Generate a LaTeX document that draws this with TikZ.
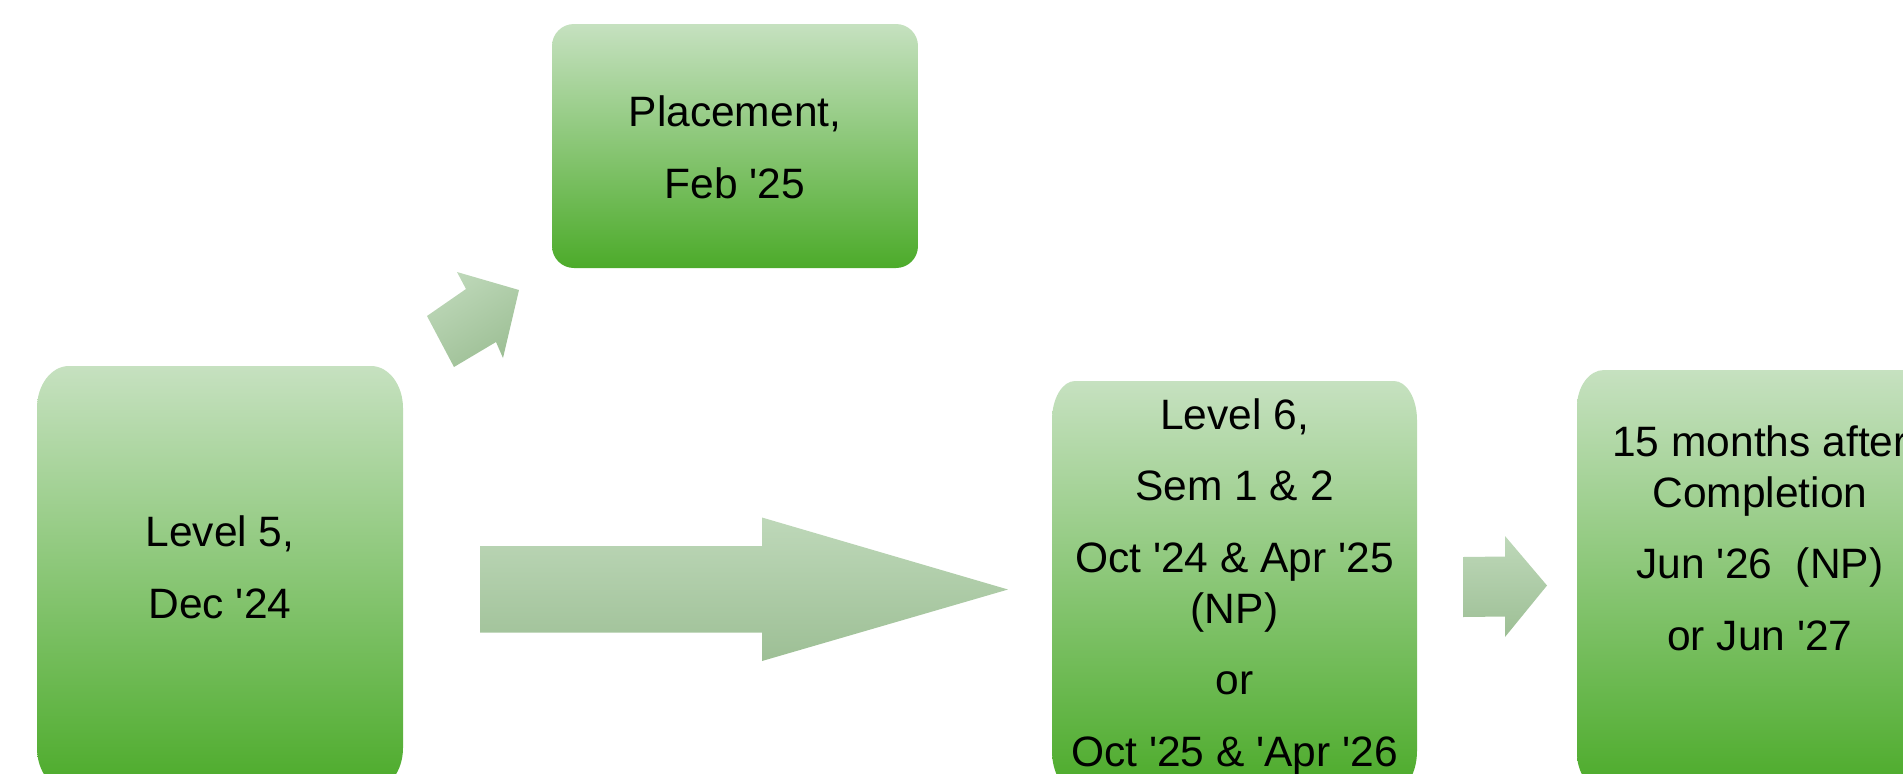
\documentclass[tikz,border=0pt]{standalone}
\usepackage{fontspec}
\setmainfont{Liberation Sans}
\definecolor{stagetop}{RGB}{198,225,192}
\definecolor{stagebot}{RGB}{76,171,42}
\definecolor{arrowtop}{RGB}{190,216,185}
\definecolor{arrowbot}{RGB}{157,191,149}
\tikzset{every picture/.style={line width=0.75pt}}
\tikzset{
  stage/.style={top color=stagetop, bottom color=stagebot, draw=none},
  blockarrow/.style={top color=arrowtop, bottom color=arrowbot, draw=none},
  lbl/.style={anchor=base, align=center, inner sep=0pt, font=\fontsize{21.25}{25.5}\selectfont}
}
\begin{document}
\begin{tikzpicture}[x=0.5pt,y=0.5pt,yscale=-1,xscale=1]
\useasboundingbox (0,0) rectangle (1903,773);
\clip (0,0) rectangle (1903,773);

%Shape: Rounded Rect [Level 5]
\shade [stage] (37,408) .. controls (37,384.8) and (51.3,366) .. (69,366) -- (371,366) .. controls (388.7,366) and (403,384.8) .. (403,408) -- (403,748) .. controls (403,771.2) and (388.7,790) .. (371,790) -- (69,790) .. controls (51.3,790) and (37,771.2) .. (37,748) -- cycle ;
%Shape: Rounded Rect [Placement]
\shade [stage] (552,46) .. controls (552,33.8) and (561.8,24) .. (574,24) -- (896,24) .. controls (908.2,24) and (918,33.8) .. (918,46) -- (918,246) .. controls (918,258.2) and (908.2,268) .. (896,268) -- (574,268) .. controls (561.8,268) and (552,258.2) .. (552,246) -- cycle ;
%Shape: Rounded Rect [Level 6]
\shade [stage] (1052,420) .. controls (1052,398.5) and (1062.3,381) .. (1075,381) -- (1394,381) .. controls (1406.7,381) and (1417,398.5) .. (1417,420) -- (1417,751) .. controls (1417,772.5) and (1406.7,790) .. (1394,790) -- (1075,790) .. controls (1062.3,790) and (1052,772.5) .. (1052,751) -- cycle ;
%Shape: Rounded Rect [Completion]
\shade [stage] (1577,407) .. controls (1577,386.6) and (1589.1,370) .. (1604,370) -- (1916,370) .. controls (1930.9,370) and (1943,386.6) .. (1943,407) -- (1943,753) .. controls (1943,773.4) and (1930.9,790) .. (1916,790) -- (1604,790) .. controls (1589.1,790) and (1577,773.4) .. (1577,753) -- cycle ;

%Shape: Right Arrow [to Placement]
\shade [blockarrow, shading angle=33] (427,316) -- (466,289) -- (457,272) -- (519,290) -- (503,358) -- (496,342) -- (454,367) -- cycle ;
%Shape: Right Arrow [to Level 6]
\shade [blockarrow] (480,546) -- (762,546) -- (762,517.5) -- (1008,589.5) -- (762,661) -- (762,632.5) -- (480,632.5) -- cycle ;
%Shape: Right Arrow [to Completion]
\shade [blockarrow] (1463,557) -- (1505,556.5) -- (1505,536) -- (1547,585.5) -- (1505,637) -- (1505,616.5) -- (1463,617) -- cycle ;

% Text Node
\node [lbl] (lvlfive) at (220,618) {Level 5,\\[10.2pt]Dec \textquotesingle 24};
% Text Node
\node [lbl] (placement) at (735,198) {Placement,\\[10.2pt]Feb \textquotesingle 25};
% Text Node
\node [lbl] (lvlsix) at (1234.5,766) {Level 6,\\[10.2pt]Sem 1 \& 2\\[10.2pt]Oct \textquotesingle 24 \& Apr \textquotesingle 25\\(NP)\\[10.2pt]or\\[10.2pt]Oct \textquotesingle 25 \& \textquotesingle Apr \textquotesingle 26};
% Text Node
\node [lbl] (completion) at (1760,650) {15 months after\\Completion\\[10.2pt]Jun \textquotesingle 26~~(NP)\\[10.2pt]or Jun \textquotesingle 27};

\end{tikzpicture}
\end{document}
